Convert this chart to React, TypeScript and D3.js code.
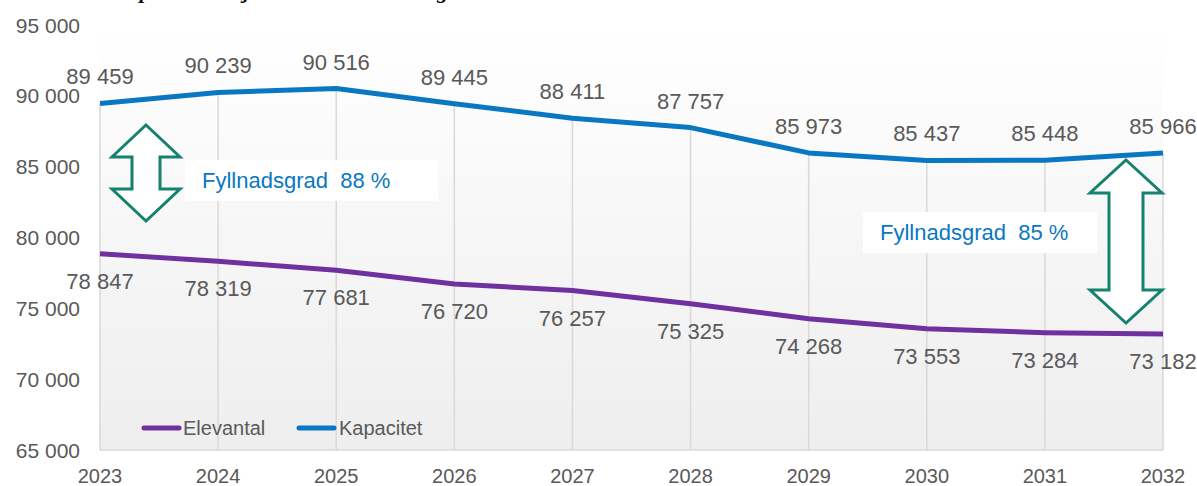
import React from 'react';
import * as d3 from 'd3';

const years = [2023, 2024, 2025, 2026, 2027, 2028, 2029, 2030, 2031, 2032];
const kapacitet = [89459, 90239, 90516, 89445, 88411, 87757, 85973, 85437, 85448, 85966];
const elevantal = [78847, 78319, 77681, 76720, 76257, 75325, 74268, 73553, 73284, 73182];
const yTicks = [65000, 70000, 75000, 80000, 85000, 90000, 95000];
const fillLabels = ['Fyllnadsgrad\u00a0\u00a088\u00a0%', 'Fyllnadsgrad\u00a0\u00a085\u00a0%'];

const W = 1197;
const H = 486;
const plot = { left: 100, right: 1163, top: 25, bottom: 450 };

const BLUE = '#0a77c2';
const PURPLE = '#7030a0';
const TEAL = '#15826f';
const GREY = '#595959';
const FONT = '"Liberation Sans", Arial, sans-serif';

// swedish thousands separator
const fmt = (v: number) => d3.format(',')(v).replace(',', '\u00a0');

const x = d3.scalePoint<number>().domain(years).range([plot.left, plot.right]);
const y = d3.scaleLinear().domain([65000, 95000]).range([plot.bottom, plot.top]);

const line = d3.line<number>()
    .x((_, i) => x(years[i]) as number)
    .y(d => y(d));

// double headed block arrow
const arrowPath = (cx: number, top: number, bottom: number, half: number, shaft: number, head: number) => {
    const p = [
        [cx, top], [cx + half, top + head], [cx + shaft, top + head],
        [cx + shaft, bottom - head], [cx + half, bottom - head], [cx, bottom],
        [cx - half, bottom - head], [cx - shaft, bottom - head], [cx - shaft, top + head],
        [cx - half, top + head],
    ];
    return 'M' + p.map(q => q.join(',')).join('L') + 'Z';
};

export default function App() {
    return (
        <svg width={W} height={H} style={{ position: 'absolute', left: 0, top: 0, background: '#fff' }}
            fontFamily={FONT}>
            <defs>
                <linearGradient id="bg" x1="0" y1="0" x2="0" y2="1">
                    <stop offset="0" stopColor="#ffffff" />
                    <stop offset="1" stopColor="#eeeeee" />
                </linearGradient>
            </defs>

            {/* title, clipped by the top of the picture */}
            <text x={114} y={-2} fontFamily='"Liberation Serif", "DejaVu Serif", serif' fontStyle="italic"
                fontWeight="bold" fontSize={22} fill="#111">
                Kapacitet och jämn elevtillströmning
            </text>

            <rect x={plot.left} y={plot.top} width={plot.right - plot.left} height={plot.bottom - plot.top}
                fill="url(#bg)" />

            {/* drop lines */}
            {years.map((yr, i) => (
                <line key={yr} x1={x(yr)} x2={x(yr)} y1={y(Math.max(kapacitet[i], elevantal[i]))} y2={plot.bottom}
                    stroke="#d9d9d9" strokeWidth={1.5} />
            ))}
            <line x1={plot.left} x2={plot.right} y1={plot.bottom} y2={plot.bottom} stroke="#d9d9d9" strokeWidth={1.5} />

            {/* y axis labels */}
            {yTicks.map(t => (
                <text key={t} x={80} y={y(t) + 7.5} textAnchor="end" fontSize={21} fill={GREY}>{fmt(t)}</text>
            ))}
            {/* x axis labels */}
            {years.map(yr => (
                <text key={yr} x={x(yr)} y={483} textAnchor="middle" fontSize={20} fill={GREY}>{yr}</text>
            ))}

            <path d={line(elevantal) || ''} fill="none" stroke={PURPLE} strokeWidth={5} strokeLinejoin="round" />
            <path d={line(kapacitet) || ''} fill="none" stroke={BLUE} strokeWidth={5} strokeLinejoin="round" />

            {kapacitet.map((v, i) => (
                <text key={'k' + i} x={x(years[i])} y={y(v) - 19} textAnchor="middle" fontSize={22} fill={GREY}>{fmt(v)}</text>
            ))}
            {elevantal.map((v, i) => (
                <text key={'e' + i} x={x(years[i])} y={y(v) + 35} textAnchor="middle" fontSize={22} fill={GREY}>{fmt(v)}</text>
            ))}

            {/* annotations */}
            <path d={arrowPath(146, 125, 221, 34, 14, 32)} fill="#fff" stroke={TEAL} strokeWidth={3} />
            <rect x={185} y={160} width={253} height={41} fill="#fff" />
            <text x={202} y={188} fontSize={22} fill={BLUE}>{fillLabels[0]}</text>

            <rect x={863} y={212} width={234} height={41} fill="#fff" />
            <text x={880} y={240} fontSize={22} fill={BLUE}>{fillLabels[1]}</text>
            <path d={arrowPath(1126, 160, 323, 36, 17, 33)} fill="#fff" stroke={TEAL} strokeWidth={3} />

            {/* legend */}
            <line x1={144} x2={179} y1={428} y2={428} stroke={PURPLE} strokeWidth={5} strokeLinecap="round" />
            <text x={183} y={435} fontSize={20} fill={GREY}>Elevantal</text>
            <line x1={299} x2={334} y1={428} y2={428} stroke={BLUE} strokeWidth={5} strokeLinecap="round" />
            <text x={339} y={435} fontSize={20} fill={GREY}>Kapacitet</text>
        </svg>
    );
}
